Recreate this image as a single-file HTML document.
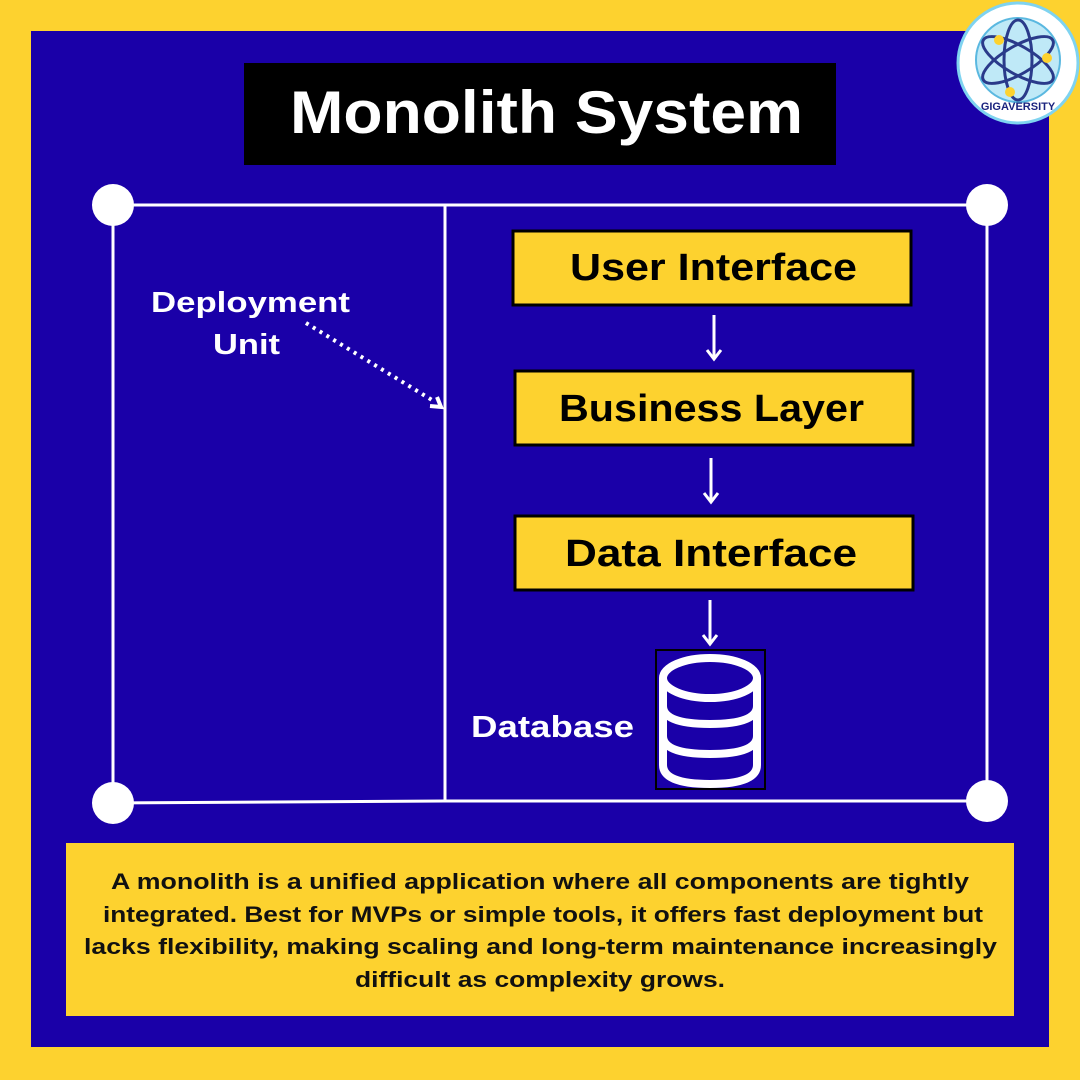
<!DOCTYPE html>
<html><head><style>
body{margin:0;background:#fdd22f;}
svg{display:block}
text{font-family:"Liberation Sans",sans-serif;font-weight:bold}
</style></head><body>
<svg width="1080" height="1080" viewBox="0 0 1080 1080" xmlns="http://www.w3.org/2000/svg">
<rect width="1080" height="1080" fill="#fdd22f"/>
<rect x="31" y="31" width="1018" height="1016" fill="#1a00a8"/>
<rect x="244" y="63" width="592" height="102" fill="#000"/>
<text x="290" y="133" font-size="60" fill="#fff" textLength="513" lengthAdjust="spacingAndGlyphs">Monolith System</text>
<g stroke="#fff" stroke-width="3" fill="none">
<polyline points="113,205 987,205 987,801 445,801 113,803 113,205"/>
<line x1="445" y1="205" x2="445" y2="801"/>
</g>
<g fill="#fff">
<circle cx="113" cy="205" r="21"/><circle cx="987" cy="205" r="21"/>
<circle cx="113" cy="803" r="21"/><circle cx="987" cy="801" r="21"/>
</g>
<text x="151" y="312" font-size="29" fill="#fff" textLength="199" lengthAdjust="spacingAndGlyphs">Deployment</text>
<text x="213" y="354" font-size="29" fill="#fff" textLength="67" lengthAdjust="spacingAndGlyphs">Unit</text>
<line x1="306" y1="323" x2="432" y2="400" stroke="#fff" stroke-width="4" stroke-dasharray="3,5"/>
<polyline points="430,406 441,407 437,397" stroke="#fff" stroke-width="4" fill="none"/>
<g stroke="#000" stroke-width="3" fill="#fdd22f">
<rect x="513" y="231" width="398" height="74"/>
<rect x="515" y="371" width="398" height="74"/>
<rect x="515" y="516" width="398" height="74"/>
</g>
<g font-size="38" fill="#000">
<text x="570" y="280" textLength="287" lengthAdjust="spacingAndGlyphs">User Interface</text>
<text x="559" y="421" textLength="305" lengthAdjust="spacingAndGlyphs">Business Layer</text>
<text x="565" y="566" textLength="292" lengthAdjust="spacingAndGlyphs">Data Interface</text>
</g>
<g stroke="#fff" stroke-width="3" fill="none">
<line x1="714" y1="315" x2="714" y2="359"/><polyline points="707,350 714,359 721,350"/>
<line x1="711" y1="458" x2="711" y2="502"/><polyline points="704,493 711,502 718,493"/>
<line x1="710" y1="600" x2="710" y2="644"/><polyline points="703,635 710,644 717,635"/>
</g>
<rect x="656" y="650" width="109" height="139" fill="#1a00a8" stroke="#000" stroke-width="2"/>
<g stroke="#fff" stroke-width="8" fill="none">
<ellipse cx="710" cy="678" rx="47" ry="20"/>
<path d="M663 678 V765 Q663 784 710 784 Q757 784 757 765 V678"/>
<path d="M663 706 Q663 724 710 724 Q757 724 757 706"/>
<path d="M663 736 Q663 754 710 754 Q757 754 757 736"/>
</g>
<text x="471" y="737" font-size="31" fill="#fff" textLength="163" lengthAdjust="spacingAndGlyphs">Database</text>
<rect x="66" y="843" width="948" height="173" fill="#fdd22f"/>
<g font-size="22" fill="#111">
<text x="111" y="889" textLength="858" lengthAdjust="spacingAndGlyphs">A monolith is a unified application where all components are tightly</text>
<text x="103" y="922" textLength="880" lengthAdjust="spacingAndGlyphs">integrated. Best for MVPs or simple tools, it offers fast deployment but</text>
<text x="84" y="954" textLength="913" lengthAdjust="spacingAndGlyphs">lacks flexibility, making scaling and long-term maintenance increasingly</text>
<text x="355" y="987" textLength="370" lengthAdjust="spacingAndGlyphs">difficult as complexity grows.</text>
</g>
<circle cx="1018" cy="63" r="60" fill="#fff" stroke="#7fd3f0" stroke-width="3"/>
<circle cx="1018" cy="60" r="42" fill="#bfe9f7" stroke="#5ab8e0" stroke-width="2"/>
<g stroke="#2a3a8a" stroke-width="3" fill="none">
<ellipse cx="1018" cy="60" rx="40" ry="14" transform="rotate(30 1018 60)"/>
<ellipse cx="1018" cy="60" rx="40" ry="14" transform="rotate(-30 1018 60)"/>
<ellipse cx="1018" cy="60" rx="14" ry="40"/>
</g>
<circle cx="999" cy="40" r="5" fill="#fdd22f"/><circle cx="1047" cy="58" r="5" fill="#fdd22f"/><circle cx="1010" cy="92" r="5" fill="#fdd22f"/>
<text x="1018" y="110" font-size="11" fill="#1a237e" text-anchor="middle">GIGAVERSITY</text>
</svg>
</body></html>
